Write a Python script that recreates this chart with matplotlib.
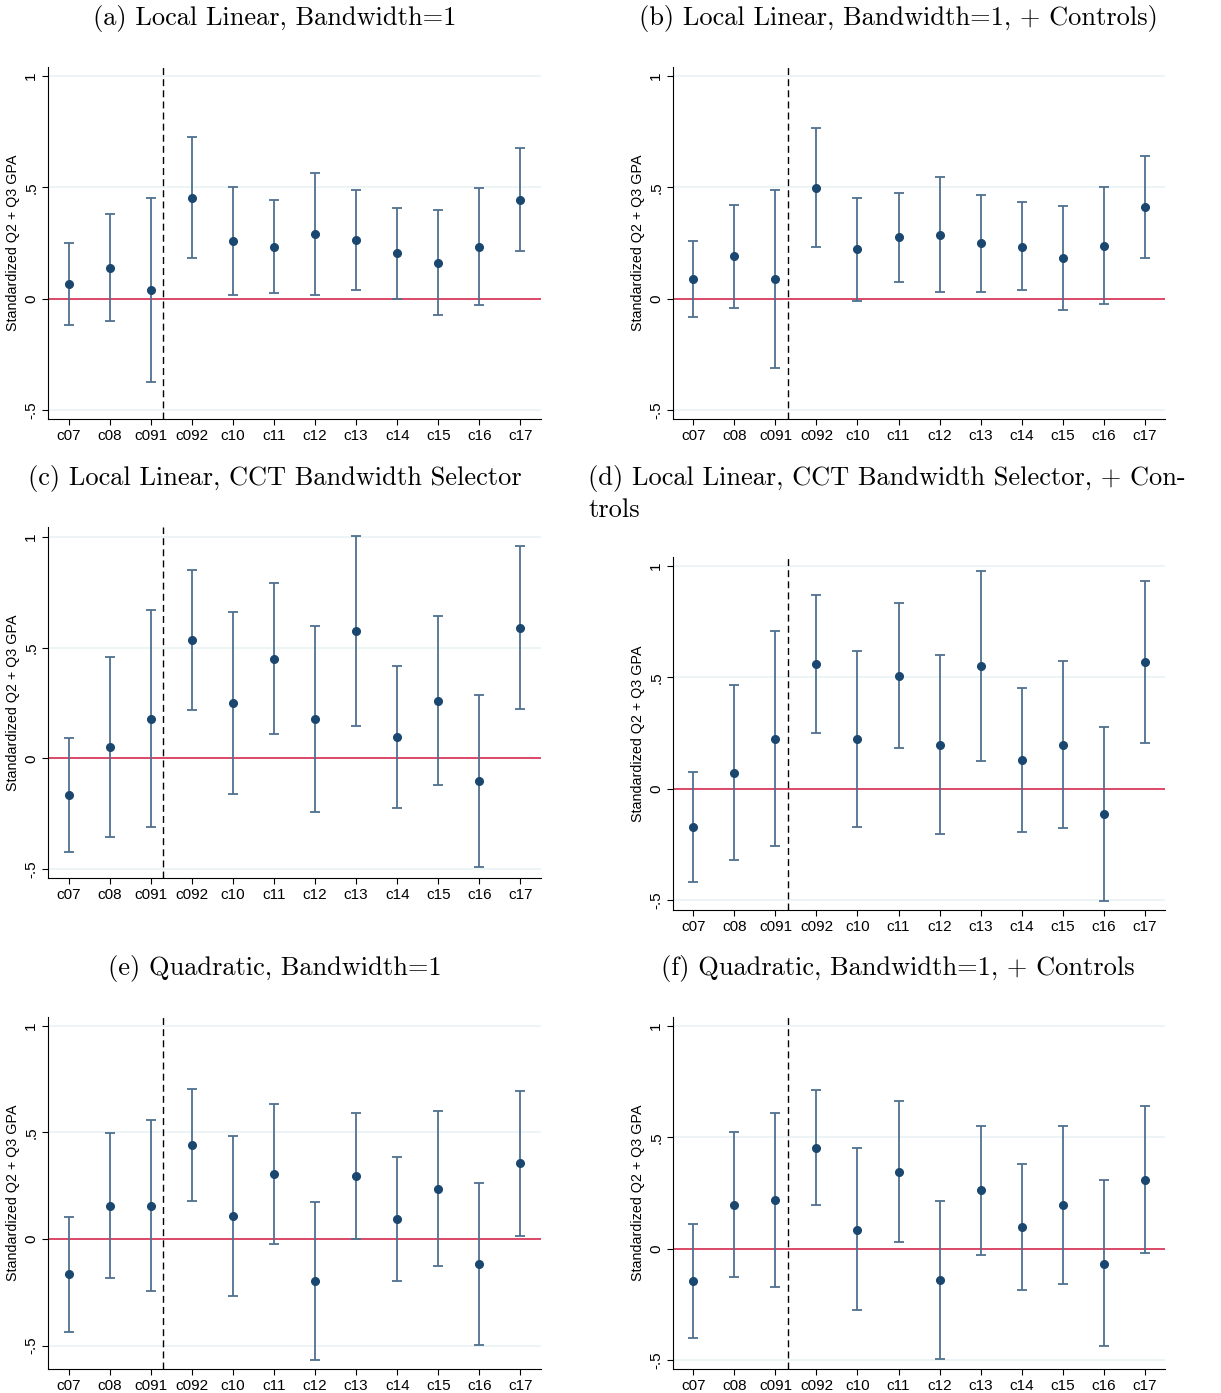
import matplotlib
matplotlib.use('Agg')
import matplotlib.pyplot as plt
import numpy as np

cohorts = ['c07', 'c08', 'c091', 'c092', 'c10', 'c11', 'c12', 'c13', 'c14', 'c15', 'c16', 'c17']

# (a) local linear, bw=1
a_pt = [0.066, 0.140, 0.037, 0.454, 0.258, 0.234, 0.291, 0.263, 0.203, 0.161, 0.234, 0.445]
a_hi = [0.249, 0.382, 0.451, 0.727, 0.500, 0.445, 0.566, 0.488, 0.409, 0.396, 0.497, 0.676]
a_lo = [-0.118, -0.100, -0.375, 0.181, 0.018, 0.024, 0.015, 0.040, -0.001, -0.073, -0.027, 0.216]

# (b) local linear, bw=1, controls
b_pt = [0.090, 0.191, 0.090, 0.497, 0.221, 0.276, 0.288, 0.248, 0.234, 0.184, 0.237, 0.412]
b_hi = [0.261, 0.422, 0.490, 0.766, 0.452, 0.476, 0.548, 0.467, 0.436, 0.418, 0.500, 0.642]
b_lo = [-0.082, -0.040, -0.309, 0.230, -0.009, 0.075, 0.030, 0.030, 0.037, -0.049, -0.022, 0.182]

# (c) local linear, CCT
c_pt = [-0.165, 0.051, 0.180, 0.534, 0.250, 0.449, 0.178, 0.576, 0.096, 0.260, -0.103, 0.591]
c_hi = [0.090, 0.458, 0.672, 0.852, 0.659, 0.790, 0.597, 1.004, 0.418, 0.641, 0.286, 0.960]
c_lo = [-0.421, -0.353, -0.310, 0.220, -0.159, 0.109, -0.240, 0.148, -0.226, -0.118, -0.490, 0.223]

# (d) local linear, CCT, controls
d_pt = [-0.171, 0.072, 0.223, 0.558, 0.222, 0.506, 0.198, 0.549, 0.127, 0.198, -0.115, 0.567]
d_hi = [0.076, 0.467, 0.707, 0.870, 0.620, 0.832, 0.599, 0.975, 0.451, 0.573, 0.277, 0.934]
d_lo = [-0.418, -0.322, -0.259, 0.249, -0.174, 0.181, -0.204, 0.126, -0.193, -0.175, -0.504, 0.204]

# (e) quadratic, bw=1
e_pt = [-0.165, 0.156, 0.156, 0.439, 0.106, 0.305, -0.196, 0.294, 0.093, 0.234, -0.120, 0.354]
e_hi = [0.103, 0.495, 0.555, 0.702, 0.480, 0.632, 0.173, 0.592, 0.386, 0.598, 0.260, 0.695]
e_lo = [-0.435, -0.185, -0.243, 0.176, -0.268, -0.022, -0.567, -0.002, -0.198, -0.129, -0.497, 0.014]

# (f) quadratic, bw=1, controls
f_pt = [-0.145, 0.196, 0.218, 0.454, 0.085, 0.344, -0.139, 0.262, 0.096, 0.196, -0.067, 0.309]
f_hi = [0.111, 0.522, 0.610, 0.712, 0.451, 0.661, 0.215, 0.552, 0.381, 0.552, 0.308, 0.640]
f_lo = [-0.401, -0.129, -0.172, 0.197, -0.277, 0.030, -0.493, -0.028, -0.187, -0.160, -0.438, -0.021]

titles = ['(a) Local Linear, Bandwidth=1',
          '(b) Local Linear, Bandwidth=1, + Controls)',
          '(c) Local Linear, CCT Bandwidth Selector',
          '(d) Local Linear, CCT Bandwidth Selector, + Con-\ntrols',
          '(e) Quadratic, Bandwidth=1',
          '(f) Quadratic, Bandwidth=1, + Controls']

panels = [(a_pt, a_lo, a_hi), (b_pt, b_lo, b_hi), (c_pt, c_lo, c_hi),
          (d_pt, d_lo, d_hi), (e_pt, e_lo, e_hi), (f_pt, f_lo, f_hi)]

ylims = [(-0.54, 1.04), (-0.54, 1.04), (-0.54, 1.045),
         (-0.545, 1.04), (-0.61, 1.04), (-0.54, 1.04)]

W, H = 1221, 1393
# axes boxes in pixels: left, top, right, bottom
boxes = [(48, 67, 541, 419), (673, 67, 1165, 419),
         (48, 527, 541, 878), (673, 557, 1165, 910),
         (48, 1017, 541, 1369), (673, 1017, 1165, 1369)]
# title anchor (x, y, ha)
title_pos = [(275, 18, 'center'), (898, 18, 'center'),
             (275, 478, 'center'), (588, 478, 'left'),
             (275, 968, 'center'), (898, 968, 'center')]

serif = ['cmr10', 'DejaVu Serif']
sans = ['Liberation Sans', 'DejaVu Sans']
navy = '#1a476f'
bar = '#4f7190'

fig = plt.figure(figsize=(W / 100, H / 100), dpi=100)
x = np.arange(1, len(cohorts) + 1)

for i, (pt, lo, hi) in enumerate(panels):
    l, t, r, b = boxes[i]
    ax = fig.add_axes([l / W, 1 - b / H, (r - l) / W, (b - t) / H])
    pt = np.array(pt); lo = np.array(lo); hi = np.array(hi)
    for yg in [-0.5, 0.5, 1.0]:
        ax.axhline(yg, color='#eaf2f3', lw=1.2, zorder=0)
    ax.axhline(0, color='#d62a4e', lw=1.2, zorder=1)
    ax.axvline(3.3, color='black', lw=1.0, ls=(0, (5, 3)), zorder=1)
    ax.errorbar(x, pt, yerr=[pt - lo, hi - pt], fmt='none', ecolor=bar,
                elinewidth=1.3, capsize=3.5, capthick=1.3, zorder=2)
    ax.plot(x, pt, 'o', color=navy, ms=5.5, zorder=3)
    ax.set_xlim(0.5, 12.5)
    ax.set_ylim(*ylims[i])
    ax.set_xticks(x)
    ax.set_xticklabels(cohorts, family=sans, fontsize=11)
    ax.set_yticks([-0.5, 0, 0.5, 1])
    ax.set_yticklabels(['-.5', '0', '.5', '1'], family=sans, fontsize=11,
                       rotation=90, va='center')
    ax.set_ylabel('Standardized Q2 + Q3 GPA', family=sans, fontsize=10.3, labelpad=3)
    ax.spines['top'].set_visible(False)
    ax.spines['right'].set_visible(False)
    ax.tick_params(direction='out', length=4, width=0.8, pad=3)
    tx, ty, ha = title_pos[i]
    for k, line in enumerate(titles[i].split('\n')):
        fig.text(tx / W, 1 - (ty + 32 * k) / H, line, ha=ha, va='center',
                 family=serif, fontsize=19)

fig.savefig('out.png', dpi=100)
